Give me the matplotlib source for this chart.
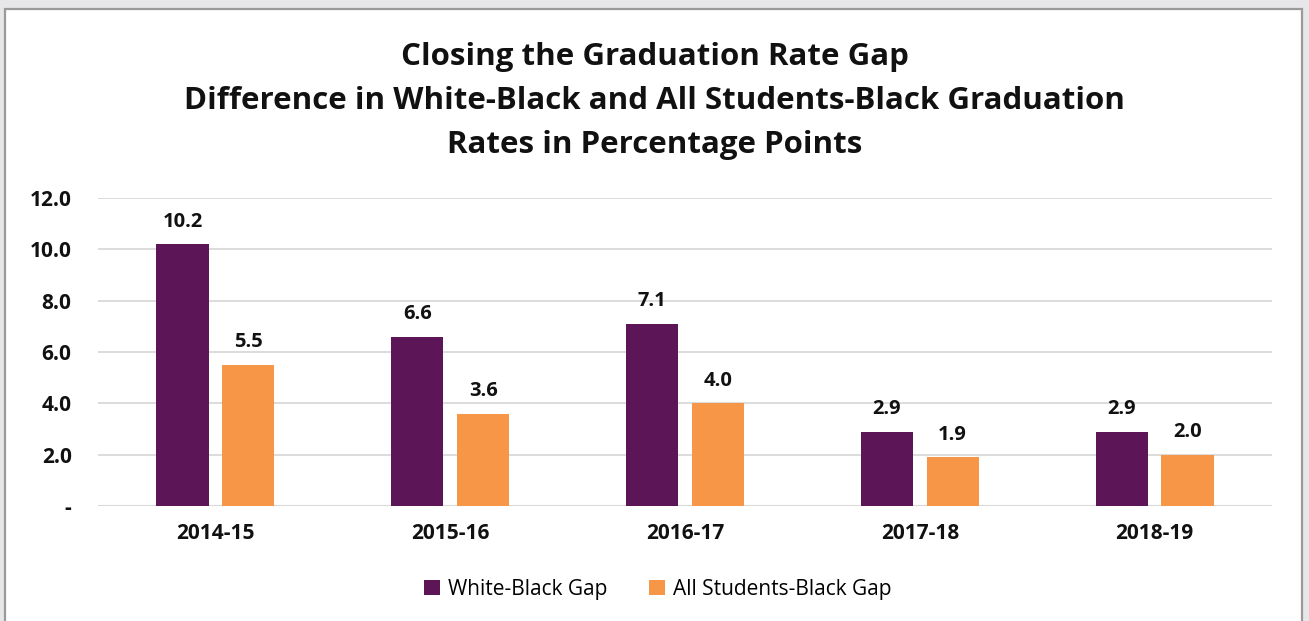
import matplotlib
matplotlib.use("Agg")
import matplotlib.pyplot as plt
from matplotlib.patches import Rectangle
import numpy as np

years = ["2014-15", "2015-16", "2016-17", "2017-18", "2018-19"]
white_black_gap = [10.2, 6.6, 7.1, 2.9, 2.9]
all_students_black_gap = [5.5, 3.6, 4.0, 1.9, 2.0]
series_names = ["White-Black Gap", "All Students-Black Gap"]
colors = ["#5c1657", "#f79646"]
y_ticks = [0, 2, 4, 6, 8, 10, 12]
y_tick_labels = ["-", "2.0", "4.0", "6.0", "8.0", "10.0", "12.0"]

W, H = 1309, 621
plt.rcParams["font.family"] = ["Open Sans", "DejaVu Sans"]
fig = plt.figure(figsize=(W / 100, H / 100), dpi=100)
fig.patch.set_facecolor("#e7e7e9")

# white chart panel with a grey frame
panel = Rectangle((5 / W, -0.1), (1302 - 5) / W, 1.1 - 9 / H, transform=fig.transFigure,
                  facecolor="white", edgecolor="#9a9a9a", linewidth=1.6, zorder=-5)
fig.patches.append(panel)

ax = fig.add_axes([98 / W, 1 - 506 / H, (1272 - 98) / W, (506 - 198) / H], zorder=2)
ax.set_facecolor("none")

x = np.arange(len(years))
bw = 0.222
off = 0.14
b1 = ax.bar(x - off, white_black_gap, bw, color=colors[0], label=series_names[0], zorder=3)
b2 = ax.bar(x + off, all_students_black_gap, bw, color=colors[1], label=series_names[1], zorder=3)

for bars, vals in ((b1, white_black_gap), (b2, all_students_black_gap)):
    for rect, v in zip(bars, vals):
        ax.annotate(f"{v:.1f}", (rect.get_x() + rect.get_width() / 2, v),
                    xytext=(0, 9), textcoords="offset points", ha="center", va="bottom",
                    fontsize=14.5, fontweight="bold", color="#111111")

ax.set_xlim(-0.5, len(years) - 0.5)
ax.set_ylim(0, 12)
ax.set_yticks(y_ticks)
ax.set_yticklabels(y_tick_labels, fontsize=15, fontweight="bold", color="#111111")
ax.set_xticks(x)
ax.set_xticklabels(years, fontsize=15, fontweight="bold", color="#111111")
ax.tick_params(axis="both", length=0)
ax.tick_params(axis="y", pad=19)
ax.tick_params(axis="x", pad=12)
ax.yaxis.grid(True, color="#d9d9d9", linewidth=1.3, zorder=0)
ax.set_axisbelow(True)
for s in ax.spines.values():
    s.set_visible(False)
ax.axhline(0, color="#d9d9d9", linewidth=1.5, zorder=2)

title_lines = ["Closing the Graduation Rate Gap",
               "Difference in White-Black and All Students-Black Graduation",
               "Rates in Percentage Points"]
for ypx, line in zip([57, 101, 145], title_lines):
    fig.text(0.5, 1 - ypx / H, line, ha="center", va="center",
             fontsize=22.5, fontweight="bold", color="#111111")

fig.legend(handles=[b1, b2], labels=series_names, loc="center", ncol=2,
           bbox_to_anchor=(658 / W, 1 - 589 / H), frameon=False, fontsize=15,
           handlelength=0.75, handleheight=0.75, handletextpad=0.4, columnspacing=2.0)

fig.savefig("out.png", dpi=100, facecolor=fig.get_facecolor())
